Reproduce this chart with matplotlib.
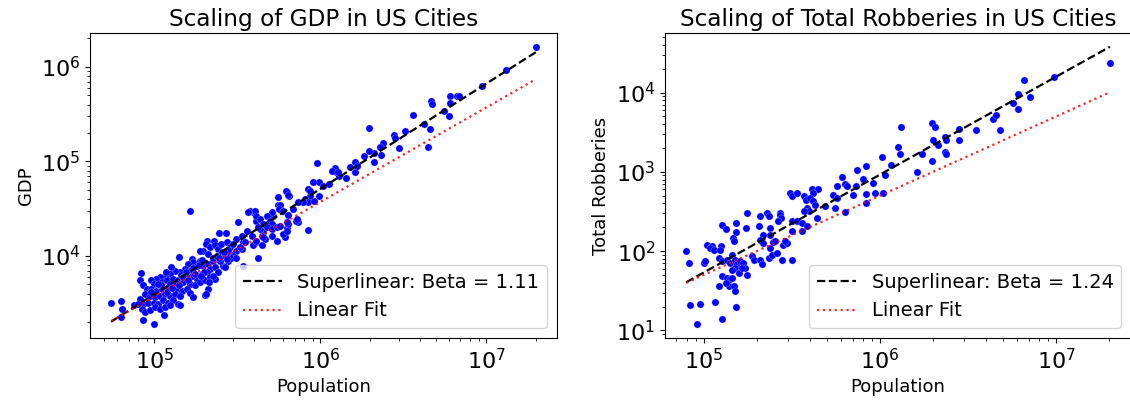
import numpy as np
import matplotlib
matplotlib.use("Agg")
import matplotlib.pyplot as plt

# GDP panel: population in thousands, GDP (millions of $)
gdp_pop_k = [
    19900, 13100, 9500, 6040, 6630, 6880, 4620, 4730, 6040, 5580,
    5960, 3620, 4230, 4580, 3250, 4450, 1970, 2780, 2820, 2990,
    2400, 2290, 2340, 2110, 2110, 1970, 1830, 1630, 1630, 1520,
    1250, 1300, 1225, 1180, 1280, 950, 1130, 990, 1040, 910,
    850, 867, 809, 847, 916, 790, 737, 627, 650, 556,
    560, 570, 590, 847, 630, 615, 640, 736, 712, 498,
    521, 475, 509, 395, 413, 410, 395, 420, 453, 443,
    433, 464,
    1440, 1655, 867, 987, 621, 641, 571, 566, 599, 641,
    688, 720, 632, 377, 404, 413, 433, 475, 498, 509,
    453, 423, 475, 509, 546, 571, 386, 413, 443, 453,
    509, 599, 632, 546,
    164, 368, 321, 246, 270, 360, 313, 336, 207, 229,
    205, 216, 232, 197, 188, 211, 243, 254, 273, 286,
    299, 267, 286, 313, 279, 260, 299, 336, 344, 141,
    168, 172, 160, 180, 153, 164, 188, 197, 211, 227,
    216, 232, 249, 243, 267, 207, 193, 180, 168, 157,
    143, 133, 127, 124, 116, 108, 103, 96, 99, 111,
    119, 130, 139, 150, 164, 176, 188, 202, 216, 232,
    211, 202, 227, 83, 82, 86, 90, 96, 103, 111,
    119, 127, 136, 146, 157, 164, 88, 94, 101, 108,
    116, 124, 133, 143, 172, 82, 86, 92, 99, 106,
    113, 121, 130, 139, 143, 84, 88, 94, 101, 108,
    116, 124, 114, 100, 86, 64, 63, 55, 63, 76,
    80, 344, 205, 214,
    120, 125, 135, 145, 155, 170, 185, 195, 225, 240,
    255, 280, 290, 310, 330, 350, 175, 200, 110, 95,
    105, 118, 128, 140, 150, 160, 190, 245, 265, 275,
]
gdp_val = [
    1630000, 930000, 625000, 498000, 498000, 498000, 438000, 406000, 420000, 343000,
    303000, 308000, 248000, 220000, 211000, 141000, 225000, 190000, 175000, 138000,
    155000, 141000, 117000, 124000, 99000, 130000, 115000, 98000, 77000, 88000,
    76600, 70600, 86000, 79600, 78000, 96000, 58000, 60000, 55000, 60000,
    51000, 43400, 40000, 36900, 38500, 36900, 36900, 48000, 43000, 42000,
    35000, 33000, 30000, 18800, 19600, 15700, 21900, 23000, 23500, 22700,
    26700, 21800, 28900, 29400, 23600, 13900, 12900, 9500, 17800, 16400,
    19300, 15100,
    66000, 90000, 49000, 43400, 49000, 44100, 34600, 31400, 30100, 27100,
    31400, 24600, 22700, 30100, 30100, 26700, 24600, 26700, 23600, 21800,
    21800, 20100, 20100, 19300, 20100, 20900, 16400, 14500, 12900, 15700,
    16400, 17100, 18500, 14500,
    30100, 28900, 23000, 17500, 17500, 18500, 15100, 16400, 14500, 14500,
    13400, 12300, 12900, 11400, 11400, 10500, 11900, 13400, 13900, 12300,
    13400, 10100, 10500, 11400, 8900, 7900, 10100, 11900, 13900, 9700,
    9300, 8600, 8200, 7900, 7300, 7000, 8900, 7900, 8200, 8900,
    7300, 7600, 8900, 6700, 7600, 6700, 6500, 5700, 6200, 6000,
    6700, 7000, 7600, 6500, 6200, 6000, 5700, 5500, 5100, 5300,
    5500, 5700, 5500, 5300, 5100, 4900, 5300, 5500, 6000, 5700,
    4500, 3900, 6200, 6600, 5500, 4900, 4500, 4500, 4300, 4500,
    4500, 4700, 4500, 4300, 4500, 4100, 4000, 3800, 3700, 3800,
    4000, 3800, 4000, 3800, 3700, 3500, 3100, 3200, 3200, 3100,
    3400, 3200, 3400, 3100, 3000, 2750, 2550, 2650, 2900, 2750,
    2900, 3000, 2350, 1900, 2100, 2750, 3300, 3160, 2250, 3000,
    3100, 7800, 4000, 5300,
    4200, 5000, 5200, 6300, 6800, 7500, 8000, 9000, 9500, 10000,
    11000, 11500, 9600, 9500, 12500, 14000, 6500, 6800, 4900, 4200,
    5000, 6800, 4600, 4900, 6000, 5600, 6200, 9400, 11000, 9200,
]

# Robbery panel: population in thousands, total robberies
rob_pop_k = [
    20100, 9740, 6590, 6040, 5710, 7100, 6040, 4370, 4560, 4760,
    3510, 2800, 2800, 1980, 2040, 1990, 2130, 2330, 2380, 2330,
    2380, 1980, 1320, 1270, 1300, 1720, 1610, 1160, 1020, 1065,
    907, 832, 743, 803, 828, 828, 935, 1033, 606, 573,
    633, 647, 699, 730, 544, 568, 555, 633, 488, 410,
    447, 419, 371, 381, 401, 384, 419, 428, 441, 393,
    371, 309, 316, 340, 271, 316, 337, 360, 384, 316,
    360, 316, 209, 228, 233, 271, 273, 265, 176, 127,
    134, 153, 153, 146, 148, 174, 205, 238, 238, 218,
    209, 104, 111, 109, 114, 126, 123, 79.5, 82, 100,
    102, 122, 127, 136, 145, 141, 151, 154, 161, 168,
    172, 188, 192, 209, 214, 233, 243, 260, 277, 151,
    145, 158, 165, 176, 127, 136, 141, 145, 139, 148,
    133, 122, 151, 84, 95, 116, 153, 92, 127, 283,
    296, 218, 238, 246, 290, 255,
]
rob_val = [
    23300, 15800, 14400, 9580, 7450, 8870, 6140, 4600, 5210, 3380,
    3380, 3480, 2530, 4180, 3720, 2530, 2190, 2780, 2530, 1800,
    1680, 1380, 3720, 2040, 1680, 1680, 1000, 1220, 1560, 916,
    720, 1170, 1040, 809, 519, 404, 540, 540, 873, 667,
    706, 655, 509, 655, 505, 467, 349, 308, 366, 605,
    605, 540, 490, 445, 467, 349, 424, 385, 261, 317,
    317, 540, 490, 540, 302, 237, 237, 226, 205, 177,
    177, 78, 274, 302, 274, 288, 261, 237, 302, 215,
    190, 226, 173, 146, 133, 195, 205, 195, 161, 161,
    140, 121, 115, 110, 104, 115, 104, 99.5, 71, 71,
    75, 82, 75, 78, 90, 71, 78, 68, 75, 71,
    61, 86, 78, 78, 68, 82, 90, 95, 78, 61,
    58.5, 53, 61, 50.5, 48, 46, 44, 46, 36, 36,
    40, 36, 31, 21.2, 21.8, 22.7, 19.7, 12, 14, 121,
    127, 127, 110, 129, 133, 135,
]

# fitted power laws (log10 prefactor, exponent)
gdp_beta, gdp_log_a = 1.114, -1.976
gdp_lin_log_c = -1.430
rob_beta, rob_log_a = 1.236, -4.450
rob_lin_log_c = -3.300


def panel(ax, pop_k, vals, beta, log_a, lin_log_c, title, ylabel):
    pop = np.array(pop_k) * 1000.0
    vals = np.array(vals, dtype=float)
    ax.scatter(pop, vals, s=27, color='blue', edgecolors='#e6e6ff', linewidths=0.2, zorder=2)
    xs = np.sort(pop)
    ax.plot(xs, 10 ** log_a * xs ** beta, 'k--', lw=1.6,
            label='Superlinear: Beta = %.2f' % beta, zorder=3)
    ax.plot(xs, 10 ** lin_log_c * xs, ':', color='red', alpha=0.85, lw=1.6,
            label='Linear Fit', zorder=3)
    ax.set_xscale('log')
    ax.set_yscale('log')
    ax.set_title(title, fontsize=16.7, pad=4.8)
    ax.set_xlabel('Population', fontsize=13)
    ax.set_ylabel(ylabel, fontsize=13)
    ax.tick_params(axis='both', which='major', labelsize=16)
    ax.legend(loc='lower right', fontsize=14)


fig = plt.figure(figsize=(11.3, 4.04), dpi=100)
ax1 = fig.add_axes([0.0796, 0.1634, 0.4133, 0.755])
ax2 = fig.add_axes([0.5885, 0.1634, 0.4124, 0.755])

panel(ax1, gdp_pop_k, gdp_val, gdp_beta, gdp_log_a, gdp_lin_log_c,
      'Scaling of GDP in US Cities', 'GDP')
panel(ax2, rob_pop_k, rob_val, rob_beta, rob_log_a, rob_lin_log_c,
      'Scaling of Total Robberies in US Cities', 'Total Robberies')

fig.savefig('out.png', dpi=100)
